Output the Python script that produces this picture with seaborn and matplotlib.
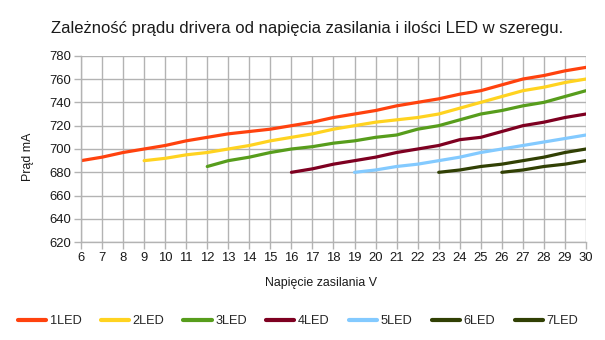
import matplotlib
matplotlib.use("Agg")
import matplotlib.pyplot as plt
import seaborn as sns
import pandas as pd

series_names = ["1LED", "2LED", "3LED", "4LED", "5LED", "6LED", "7LED"]
x_1 = list(range(6, 31))
y_1 = [690, 693, 697, 700, 703, 707, 710, 713, 715, 717, 720, 723, 727, 730, 733, 737, 740, 743, 747, 750, 755, 760, 763, 767, 770]
x_2 = list(range(9, 31))
y_2 = [690, 692, 695, 697, 700, 703, 707, 710, 713, 717, 720, 723, 725, 727, 730, 735, 740, 745, 750, 753, 757, 760]
x_3 = list(range(12, 31))
y_3 = [685, 690, 693, 697, 700, 702, 705, 707, 710, 712, 717, 720, 725, 730, 733, 737, 740, 745, 750]
x_4 = list(range(16, 31))
y_4 = [680, 683, 687, 690, 693, 697, 700, 703, 708, 710, 715, 720, 723, 727, 730]
x_5 = list(range(19, 31))
y_5 = [680, 682, 685, 687, 690, 693, 697, 700, 703, 706, 709, 712]
x_6 = list(range(23, 31))
y_6 = [680, 682, 685, 687, 690, 693, 697, 700]
x_7 = list(range(26, 31))
y_7 = [680, 682, 685, 687, 690]
colors = ["#ff420e", "#ffd320", "#579d1c", "#7e0021", "#83caff", "#314004", "#314004"]
x_ticks = list(range(6, 31))
y_ticks = list(range(620, 781, 20))

xs = [x_1, x_2, x_3, x_4, x_5, x_6, x_7]
ys = [y_1, y_2, y_3, y_4, y_5, y_6, y_7]
rows = []
for n, xx, yy in zip(series_names, xs, ys):
    for a, b in zip(xx, yy):
        rows.append({"U": a, "I": b, "LED": n})
df = pd.DataFrame(rows)

sns.set_theme(style="white")
plt.rcParams["font.family"] = ["Liberation Sans", "DejaVu Sans"]

fig = plt.figure(figsize=(6.05, 3.4), dpi=100)
ax = fig.add_axes([81/605, 1-242.3/340, (586-81)/605, (242.3-55.7)/340])
sns.lineplot(data=df, x="U", y="I", hue="LED", palette=colors, linewidth=2.3, ax=ax, legend=True)

ax.set_xlim(6, 30)
ax.set_ylim(620, 780)
ax.set_xticks(x_ticks)
ax.set_yticks(y_ticks)
ax.grid(True, color="#b3b3b3", linewidth=1)
ax.set_axisbelow(True)
for s in ["top", "right"]:
    ax.spines[s].set_visible(False)
for s in ["left", "bottom"]:
    ax.spines[s].set_color("#b3b3b3")
    ax.spines[s].set_linewidth(1)
ax.tick_params(axis="both", which="both", length=5, width=1, color="#b3b3b3", labelsize=9.4, labelcolor="#1a1a1a", pad=2, left=True, bottom=True)
ax.set_xlabel("")
ax.set_ylabel("")

fig.text(51/605, 1-29/340, "Zależność prądu drivera od napięcia zasilania i ilości LED w szeregu.", ha="left", va="center", fontsize=12, color="#1a1a1a")
fig.text(28/605, 1-156.5/340, "Prąd mA", rotation=90, ha="center", va="center", fontsize=8.9, color="#1a1a1a")
fig.text(321/605, 1-283/340, "Napięcie zasilania V", ha="center", va="center", fontsize=8.9, color="#1a1a1a")

h, l = ax.get_legend_handles_labels()
ax.legend_.remove()
leg = fig.legend(h, l, loc="center", bbox_to_anchor=(298/605, 1-321/340), ncol=7, frameon=False, fontsize=9.2, handlelength=2.2, handletextpad=0.3, columnspacing=1.5, borderpad=0, borderaxespad=0)
for line in leg.get_lines():
    line.set_linewidth(3)

fig.savefig("out.png", dpi=100)
